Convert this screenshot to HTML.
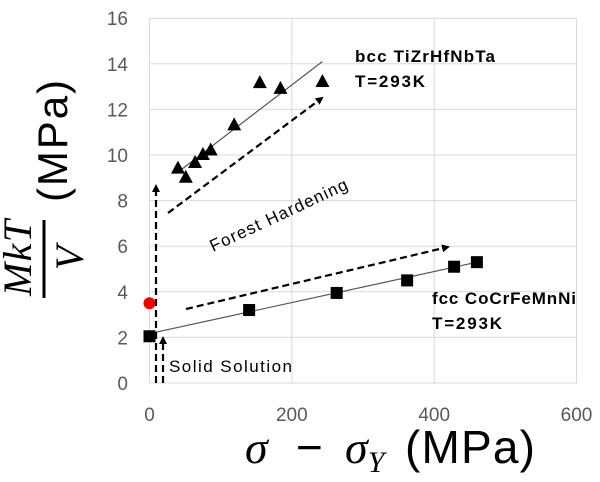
<!DOCTYPE html>
<html><head><meta charset="utf-8"><style>
html,body{margin:0;padding:0;background:#fff;}
svg{display:block;font-family:"Liberation Sans",sans-serif;}
</style></head><body>
<svg id="chart" width="600" height="482" viewBox="0 0 600 482" xmlns="http://www.w3.org/2000/svg">
<g id="grid"></g>
<g id="ticks"></g>
<g id="marks"></g>
<g id="ytitle" transform="translate(63,190) rotate(-90)">
  <text x="-68" y="-32" font-family="Liberation Serif,serif" font-style="italic" font-size="40" text-anchor="middle" textLength="76">MkT</text>
  <line x1="-108" y1="-19" x2="-30" y2="-19" stroke="#000" stroke-width="3"/>
  <text x="-68" y="20" font-family="Liberation Serif,serif" font-style="italic" font-size="40" text-anchor="middle">V</text>
  <text x="-12" y="4" font-size="42" textLength="122">(MPa)</text>
</g>
<g font-size="46">
  <text x="245" y="463" font-family="Liberation Serif,serif" font-style="italic">σ</text>
  <text x="296" y="463">−</text>
  <text x="345" y="463" font-family="Liberation Serif,serif" font-style="italic">σ<tspan font-size="30" dy="9">Y</tspan></text>
  <text x="405" y="463" textLength="130">(MPa)</text>
</g>
<g font-weight="bold" font-size="17">
  <text x="355" y="62" textLength="140">bcc TiZrHfNbTa</text>
  <text x="355" y="87" textLength="70">T=293K</text>
  <text x="432" y="304" textLength="144">fcc CoCrFeMnNi</text>
  <text x="432" y="329" textLength="70">T=293K</text>
</g>
<text x="0" y="0" font-size="17" textLength="150" transform="translate(213,252) rotate(-25)">Forest Hardening</text>
<text x="169" y="372" font-size="17" textLength="123">Solid Solution</text>
</svg>
<script>
const xTicks=[0,200,400,600];
const yTicks=[0,2,4,6,8,10,12,14,16];
const bccX=[40,51,64,75,86,119,155,184,243];
const bccY=[9.4,9.0,9.65,10.0,10.2,11.3,13.15,12.9,13.2];
const bccFitX=[40,243];
const bccFitY=[9.25,14.1];
const fccX=[0,140,263,362,428,460];
const fccY=[2.05,3.2,3.95,4.5,5.1,5.3];
const fccFitX=[5,460];
const fccFitY=[2.2,5.3];
const redX=[0];
const redY=[3.5];
const NS='http://www.w3.org/2000/svg';
const X0=149.5,XS=0.7117,Y0=383,YS=22.8;
const sx=v=>X0+v*XS, sy=v=>Y0-v*YS;
function mk(tag,parent,attrs){const e=document.createElementNS(NS,tag);for(const k in attrs)e.setAttribute(k,attrs[k]);parent.appendChild(e);return e;}
const grid=document.getElementById('grid'),ticks=document.getElementById('ticks'),marks=document.getElementById('marks');
xTicks.forEach(t=>{const l=mk('line',grid,{x1:sx(t),x2:sx(t),y1:sy(16),y2:sy(0),stroke:'#d9d9d9','stroke-width':1});


const tx=mk('text',ticks,{x:sx(t),y:421,'font-size':19,fill:'#595959','text-anchor':'middle'});tx.textContent=t;

});
yTicks.forEach(t=>{const l=mk('line',grid,{x1:sx(0),x2:sx(600),y1:sy(t),y2:sy(t),stroke:'#d9d9d9','stroke-width':1});


const tx=mk('text',ticks,{x:128,y:sy(t)+7,'font-size':19,fill:'#595959','text-anchor':'end'});tx.textContent=t;

});
const defs=mk('defs',document.getElementById('chart'),{});
const mkr=mk('marker',defs,{id:'ah',markerWidth:8,markerHeight:8,refX:6,refY:4,orient:'auto',markerUnits:'userSpaceOnUse'});
mk('path',mkr,{d:'M0,0 L8,4 L0,8 Z',fill:'#000'});
const bl=mk('line',marks,{x1:sx(bccFitX[0]),y1:sy(bccFitY[0]),x2:sx(bccFitX[1]),y2:sy(bccFitY[1]),stroke:'#555','stroke-width':1.2});


const fl=mk('line',marks,{x1:sx(fccFitX[0]),y1:sy(fccFitY[0]),x2:sx(fccFitX[1]),y2:sy(fccFitY[1]),stroke:'#555','stroke-width':1.2});


[[156,383,156,186,'forest-vertical-arrow'],[163,383,163,338,'solid-solution-arrow'],[168,213,322,98,'bcc-forest-arrow'],[186,309,448,247,'fcc-forest-arrow']].forEach(a=>{
const l=mk('line',marks,{x1:a[0],y1:a[1],x2:a[2],y2:a[3],stroke:'#000','stroke-width':2.2,'stroke-dasharray':'7,4','marker-end':'url(#ah)'});

});
bccX.forEach((v,i)=>{const x=sx(v),y=sy(bccY[i]);
const p=mk('polygon',marks,{points:`${x},${y-8} ${x-7},${y+5} ${x+7},${y+5}`,fill:'#000'});

});
fccX.forEach((v,i)=>{const x=sx(v),y=sy(fccY[i]);
const r=mk('rect',marks,{x:x-6,y:y-6,width:12,height:12,fill:'#000'});

});
redX.forEach((v,i)=>{const c=mk('circle',marks,{cx:sx(v),cy:sy(redY[i]),r:6,fill:'#e00'});

});
</script>
</body></html>
